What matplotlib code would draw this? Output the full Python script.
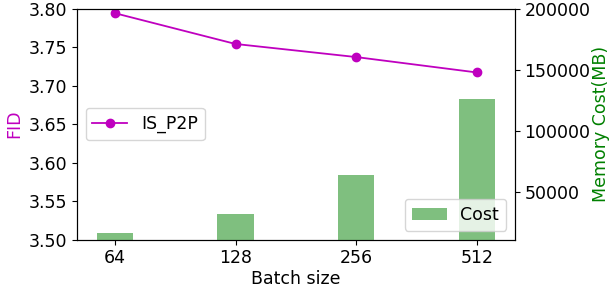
import numpy as np
import matplotlib
matplotlib.use("Agg")
from matplotlib import pyplot as plt

batch = ["64", "128", "256", "512"]
fid = [3.794, 3.754, 3.737, 3.717]
cost = [16000, 32000, 64000, 126000]

plt.rcParams["font.size"] = 12.5

fig, ax1 = plt.subplots(figsize=(6.1, 2.95), dpi=100)
x = np.arange(len(batch))

ax1.plot(x, fid, color="m", marker="o", markersize=6, linewidth=1.3, label="IS_P2P")
ax1.set_ylim(3.50, 3.80)
ax1.set_ylabel("FID", color="m")
ax1.set_xlabel("Batch size", labelpad=2)
ax1.set_xticks(x)
ax1.set_xticklabels(batch)
ax1.legend(loc="center left")

ax2 = ax1.twinx()
ax2.bar(x, cost, 0.3, color="g", alpha=0.5, label="Cost")
ax2.set_ylim(11000, 200000)
ax2.set_yticks([50000, 100000, 150000, 200000])
ax2.set_ylabel("Memory Cost(MB)", color="g", labelpad=1)
ax2.legend(loc="lower right")

plt.subplots_adjust(left=0.126, right=0.844, bottom=0.188, top=0.971)
plt.savefig("out.png")
